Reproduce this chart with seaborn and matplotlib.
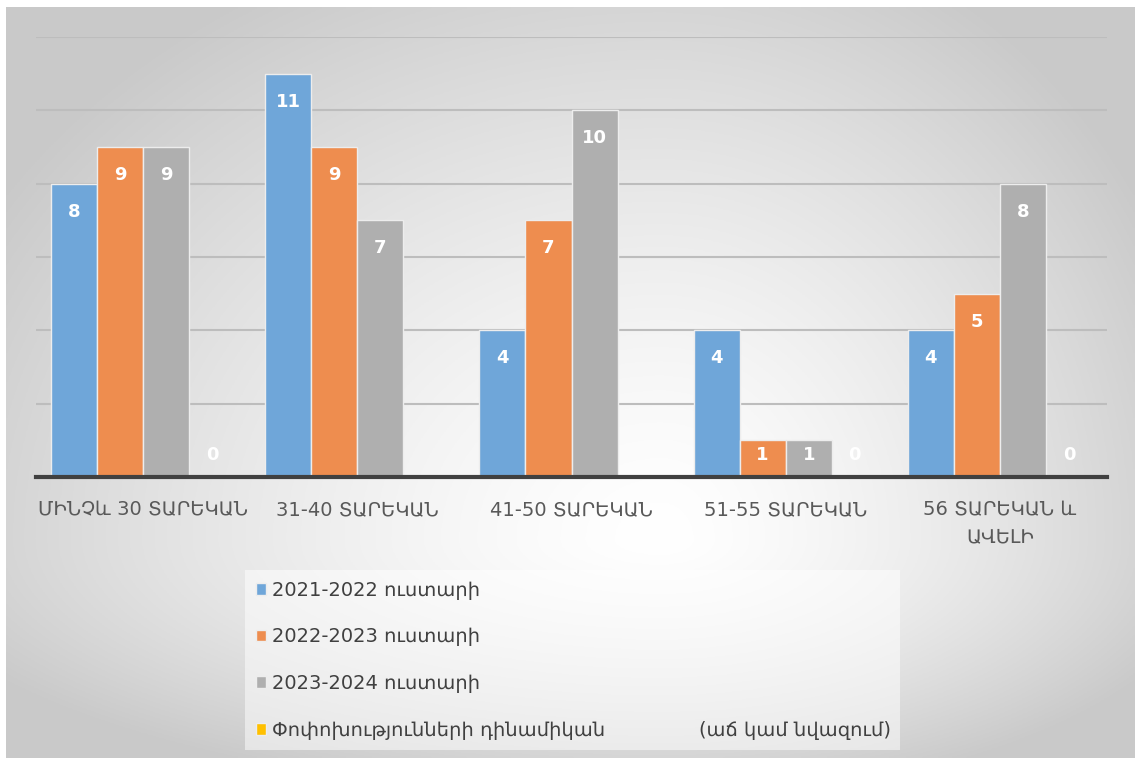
import numpy as np
import pandas as pd
import matplotlib
matplotlib.use("Agg")
import matplotlib.pyplot as plt
import seaborn as sns

# data
categories = ["ՄԻՆՉև 30 ՏԱՐԵԿԱՆ", "31-40 ՏԱՐԵԿԱՆ", "41-50 ՏԱՐԵԿԱՆ",
              "51-55 ՏԱՐԵԿԱՆ", "56 ՏԱՐԵԿԱՆ և\nԱՎԵԼԻ"]
series_names = ["2021-2022 ուստարի", "2022-2023 ուստարի", "2023-2024 ուստարի",
                "Փոփոխությունների դինամիկան"]
legend_labels = ["2021-2022 ուստարի", "2022-2023 ուստարի", "2023-2024 ուստարի",
                 "Փոփոխությունների դինամիկան" + " " * 15 + "(աճ կամ նվազում)"]
values_2021 = [8, 11, 4, 4, 4]
values_2022 = [9, 9, 7, 1, 5]
values_2023 = [9, 7, 10, 1, 8]
values_change = [0, np.nan, np.nan, 0, 0]

colors = ["#6FA6D9", "#EE8D4F", "#AFAFAF", "#FFC000"]

rows = []
for name, vals in zip(series_names, [values_2021, values_2022, values_2023, values_change]):
    for cat, v in zip(categories, vals):
        rows.append({"group": cat, "series": name, "value": v})
df = pd.DataFrame(rows)

sns.set_style("white")
plt.rcParams["font.family"] = ["DejaVu Sans"]

fig = plt.figure(figsize=(11.35, 7.58), dpi=100)

# gradient background (light centre, grey edges)
bg = fig.add_axes([6 / 1135, 0, 1 - 6 / 1135, 1 - 7 / 758], zorder=-10)
nx, ny = 400, 300
xx, yy = np.meshgrid(np.linspace(0, 1, nx), np.linspace(1, 0, ny))
cx, cy = 0.58, 0.29
dx = np.where(xx < cx, (cx - xx) / cx, (xx - cx) / (1 - cx))
dy = np.where(yy < cy, (cy - yy) / cy, (yy - cy) / (1 - cy))
d = np.clip(np.sqrt(dx ** 2 + dy ** 2) / 1.2, 0, 1)
shade = 1 - 0.21 * d ** 1.4
bg.imshow(np.dstack([shade] * 3), aspect="auto", extent=(0, 1, 0, 1))
bg.axis("off")

ax = fig.add_axes([36 / 1135, 1 - 477 / 758, (1107 - 36) / 1135, (477 - 37) / 758])
ax.set_facecolor("none")

sns.barplot(data=df, x="group", y="value", hue="series", order=categories,
            hue_order=series_names, palette=colors, saturation=1, width=0.86,
            errorbar=None, edgecolor="#EDEDED", linewidth=1, ax=ax, zorder=3)

ax.set_ylim(0, 12)
ax.set_xlim(-0.5, len(categories) - 0.5)
ax.set_yticks(range(0, 13, 2))
ax.yaxis.grid(True, color="#BDBDBD", linewidth=1.5, zorder=0)
ax.set_axisbelow(True)
ax.set_yticklabels([])
ax.tick_params(axis="y", length=0)
ax.tick_params(axis="x", length=0, pad=17, labelsize=14, labelcolor="#595959")
for lbl in ax.get_xticklabels():
    lbl.set_linespacing(1.5)
ax.set_xlabel("")
ax.set_ylabel("")
for side in ["top", "right", "left"]:
    ax.spines[side].set_visible(False)
ax.spines["bottom"].set_color("#404040")
ax.spines["bottom"].set_linewidth(3)
ax.spines["bottom"].set_zorder(5)

# value labels inside the bar tops
for container in ax.containers:
    for patch in container.patches:
        h = patch.get_height()
        if np.isnan(h):
            continue
        x = patch.get_x() + patch.get_width() / 2
        ax.text(x, max(h - 0.76, 0.6), f"{int(h)}", ha="center", va="center",
                color="white", fontsize=13, fontweight="bold", zorder=6)

handles, _ = ax.get_legend_handles_labels()
leg = ax.legend(handles, legend_labels, loc="upper left",
                bbox_to_anchor=(245 / 1135, 11 / 758, (900 - 245) / 1135, (188 - 11) / 758),
                bbox_transform=fig.transFigure, mode="expand", fontsize=14,
                handlelength=0.55, handleheight=0.55, handletextpad=0.3,
                labelspacing=1.42, borderpad=0.55, frameon=True, fancybox=False,
                borderaxespad=0)
leg.get_frame().set_facecolor("white")
leg.get_frame().set_alpha(0.5)
leg.get_frame().set_edgecolor("none")
for t in leg.get_texts():
    t.set_color("#404040")

fig.savefig("out.png", dpi=100)
